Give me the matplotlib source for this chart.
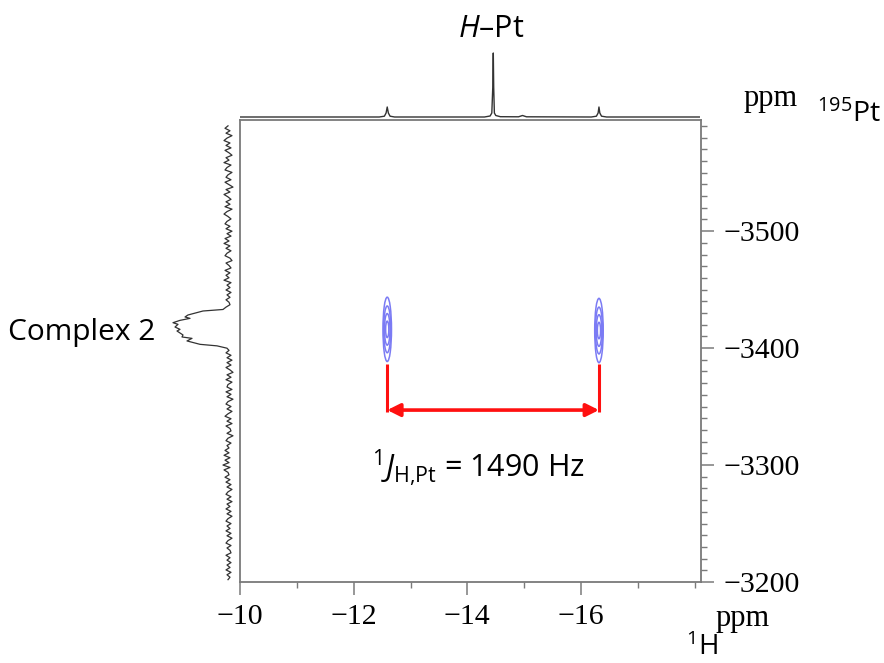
import numpy as np
import matplotlib
matplotlib.use("Agg")
import matplotlib.pyplot as plt
from matplotlib.patches import Ellipse
from matplotlib.ticker import MultipleLocator, FixedLocator

plt.rcParams['mathtext.fontset'] = 'custom'
plt.rcParams['mathtext.rm'] = 'Open Sans'
plt.rcParams['mathtext.it'] = 'Open Sans:italic'
plt.rcParams['mathtext.bf'] = 'Open Sans:bold'

# ---------------- data ----------------
# 1H projection (top trace): ppm, intensity
h_ppm = [-10.0, -12.45, -12.54, -12.57, -12.59, -12.61, -12.64, -12.72,
         -14.30, -14.40, -14.43, -14.447, -14.456, -14.463, -14.475, -14.50,
         -14.58, -14.90, -14.97, -15.04, -16.18, -16.27, -16.30, -16.315,
         -16.33, -16.36, -16.45, -18.08]
h_int = [0.0, 0.0, 0.8, 4.0, 10.0, 4.0, 0.8, 0.0,
         0.0, 1.0, 4.0, 30.0, 64.0, 30.0, 4.0, 1.5,
         0.3, 0.2, 1.5, 0.2, 0.0, 0.8, 4.0, 10.0,
         4.0, 0.8, 0.0, 0.0]

# 195Pt projection (left trace): noise above peak, peak, noise below
pt_noise_upper = [2, 5, 0, 4, -2, 3, 6, 0, 4, -1, 5, 1, -2, 4, 1, 6, -1, 3, 5, -2,
                  2, 4, -1, 5, 1, -3, 4, 0, 6, 2, -1, 4, 0, 5, -2, 3, 6, 2, -1, 3,
                  5, 0, 4, -2, 3, -1, 5, 1, 6, 0, 4, -1, 3, 5, 0, -2, 4, 1, -1, 5,
                  0, 4, 1, 6, -1, 3, 0, 4, -1, 3, 0, 4, 1, 0, 4]
pt_peak_ppm = [-3433.0, -3431.7, -3429.4, -3428.3, -3426.6, -3425.4, -3423.7,
               -3421.7, -3420.3, -3418.0, -3416.0, -3414.6, -3411.2, -3409.5,
               -3408.3, -3406.1, -3403.2, -3401.9, -3399.9]
pt_peak_int = [7, 27, 37, 42, 45, 40, 50, 57, 52, 55, 50, 53, 47, 48, 38, 43,
               30, 13, 3]
pt_noise_lower = [1, 4, -1, 3, -2, 3, -1, 4, 0, -3, 3, -1, 4, -2, 2, 3, -2, 4, -1, 3,
                  -3, 2, 4, -1, 3, -2, 2, 5, -1, 3, -2, 4, 0, -1, 3, -3, 2, 4, -1, 3,
                  1, 5, 1, 6, 0, 5, 1, 7, 0, 6, 2, 1, 5, 0, 4, -1, 3, -2, 2, 4,
                  -1, 3, -2, 3, 0, 4, -1, 3, -2, 2, 4, -1, 3, 0, 4, -1, 3, -2, 2, 4,
                  -1, 3, 0, -1, 4, 0, 3, -1, 3, 0, 4, -1, 3, 0, 2]

# cross peaks (1H ppm, 195Pt ppm) and contour levels (half widths)
cross_h = [-12.59, -16.315]
cross_pt = [-3416.0, -3415.0]
contour_half_h = [27.5, 20.0, 13.5, 7.0]
contour_half_w = [0.075, 0.062, 0.048, 0.028]

# coupling annotation
j_bar_top = -3386.0
j_arrow_y = -3347.0
j_label = r"$^{1}\mathit{J}_{\mathrm{H{,}Pt}}$ = 1490 Hz"

x_ticks = [-10, -12, -14, -16]
y_ticks = [-3500, -3400, -3300, -3200]
xlim = (-10.0, -18.11)
ylim = (-3200.0, -3595.0)

# ---------------- figure ----------------
W, H = 884, 663
fig = plt.figure(figsize=(W / 100, H / 100), dpi=100)

def fx(px):
    return px / W

def fy(py):
    return (H - py) / H

gray = '#7a7a7a'
ax = fig.add_axes([fx(240), fy(582), fx(701) - fx(240), fy(120) - fy(582)])
ax.set_xlim(*xlim)
ax.set_ylim(*ylim)
for s in ax.spines.values():
    s.set_color(gray)
    s.set_linewidth(1.3)

ax.xaxis.set_major_locator(FixedLocator(x_ticks))
ax.xaxis.set_minor_locator(MultipleLocator(1))
ax.yaxis.set_major_locator(FixedLocator(y_ticks))
ax.yaxis.set_minor_locator(MultipleLocator(10))
ax.yaxis.tick_right()
ax.tick_params(axis='both', which='major', length=9, width=1.1, color=gray,
               labelsize=21.5, direction='out')
ax.tick_params(axis='both', which='minor', length=4.5, width=1.0, color=gray,
               direction='out')
ax.tick_params(axis='y', which='both', left=False, right=True,
               labelleft=False, labelright=True, pad=7)
ax.tick_params(axis='x', which='both', top=False, bottom=True, pad=7)
for lab in ax.get_xticklabels() + ax.get_yticklabels():
    lab.set_fontfamily('Liberation Serif')

# contours
for cx, cy in zip(cross_h, cross_pt):
    for hw, hh in zip(contour_half_w, contour_half_h):
        ax.add_patch(Ellipse((cx, cy), 2 * hw, 2 * hh, fill=False,
                             edgecolor='#7b7bf4', lw=1.1))

# red coupling bars and arrow
for cx in cross_h:
    ax.plot([cx, cx], [j_bar_top, j_arrow_y + 1.5], color='#ff1010', lw=2.2,
            solid_capstyle='butt')
ax.annotate('', xy=(cross_h[1], j_arrow_y), xytext=(cross_h[0], j_arrow_y),
            arrowprops=dict(arrowstyle='<|-|>', color='#ff1010', lw=2.6,
                            mutation_scale=19, shrinkA=0, shrinkB=0))
ax.text(-14.19, -3289.5, j_label, ha='center', va='baseline', fontsize=22,
        family='Open Sans')

# top projection
ax_top = fig.add_axes([fx(240), fy(121), fx(701) - fx(240), fy(40) - fy(121)])
ax_top.set_xlim(*xlim)
ax_top.set_ylim(-4, 77)
ax_top.plot(h_ppm, h_int, color='#333333', lw=1.0)
ax_top.axis('off')

# left projection
ax_left = fig.add_axes([fx(160), fy(582), fx(240) - fx(160), fy(120) - fy(582)])
ax_left.set_xlim(70, -10)
ax_left.set_ylim(*ylim)
up_y = np.linspace(-3590.0, -3435.0, len(pt_noise_upper))
lo_y = np.linspace(-3398.0, -3202.0, len(pt_noise_lower))
ys = list(up_y) + pt_peak_ppm + list(lo_y)
xs = list(pt_noise_upper) + pt_peak_int + list(pt_noise_lower)
ax_left.plot(xs, ys, color='#333333', lw=0.9)
ax_left.axis('off')

# labels
fig.text(fx(155), fy(340), 'Complex 2', ha='right', va='baseline',
         fontsize=21.5, family='Open Sans')
fig.text(fx(491), fy(37), r"$\mathit{H}$" + "\u2013Pt", ha='center',
         va='baseline', fontsize=22, family='Open Sans')
fig.text(fx(744), fy(106), 'ppm', ha='left', va='baseline', fontsize=22,
         family='Liberation Serif')
fig.text(fx(817), fy(122), r"$^{195}$Pt", ha='left', va='baseline',
         fontsize=20.5, family='Open Sans')
fig.text(fx(716), fy(626), 'ppm', ha='left', va='baseline', fontsize=22,
         family='Liberation Serif')
fig.text(fx(686), fy(655), r"$^{1}$H", ha='left', va='baseline',
         fontsize=20, family='Open Sans')

fig.savefig('out.png', dpi=100)
